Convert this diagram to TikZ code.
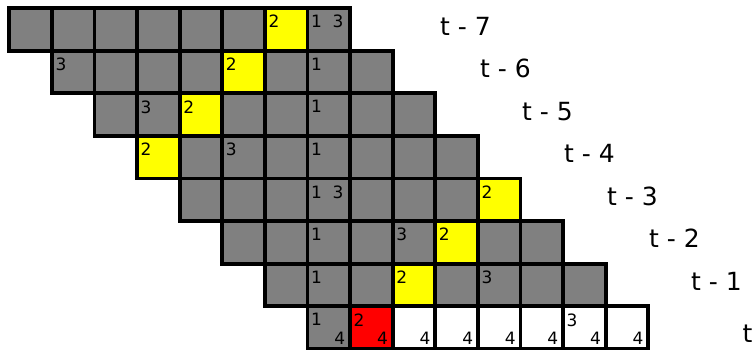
\documentclass[tikz,border=0pt]{standalone}
\usepackage{fontspec}
\setmainfont{DejaVu Sans}
\usetikzlibrary{positioning}
\definecolor{cellgray}{HTML}{808080}
\definecolor{cellyellow}{HTML}{FFFF00}
\definecolor{cellred}{HTML}{FF0000}
\tikzset{
  cellbox/.style={draw=black,line width=3.8pt,fill=cellgray,minimum size=42.6pt,inner sep=0pt,outer sep=0pt},
  hitbox/.style={cellbox,fill=cellyellow},
  nowbox/.style={cellbox,fill=white},
  newbox/.style={cellbox,fill=cellred},
  tag/.style={font=\fontsize{17}{17}\selectfont,inner sep=0pt,anchor=north west,xshift=3.5pt,yshift=-7pt},
  count/.style={font=\fontsize{17}{17}\selectfont,inner sep=0pt,anchor=south east,xshift=-4.5pt,yshift=4.5pt},
  steplabel/.style={font=\fontsize{25}{25}\selectfont,inner sep=0pt,anchor=base west}
}

\begin{document}
\begin{tikzpicture}[x=1pt,y=-1pt]
  \useasboundingbox (0,0) rectangle (756,349);
  % past rows
  \foreach \r in {0,...,6}
    \foreach \c in {0,...,7}
      \node[cellbox] (c\r\c) at ({30.5+42.6*(\r+\c)},{29.3+42.6*\r}) {};
  % current row
  \foreach \c/\s in {0/cellbox,1/newbox,2/nowbox,3/nowbox,4/nowbox,5/nowbox,6/nowbox,7/nowbox}
    \node[\s] (c7\c) at ({30.5+42.6*(7+\c)},{29.3+42.6*7}) {};
  % hits
  \foreach \r/\c in {0/6,1/4,2/2,3/0,4/7,5/5,6/3}
    \node[hitbox] (hit\r) at (c\r\c) {};
  % cell tags
  \node[tag] at (c06.north west) {2};
  \node[tag] at (c07.north west) {1\ \ 3};
  \node[tag] at (c10.north west) {3};
  \node[tag] at (c14.north west) {2};
  \node[tag] at (c16.north west) {1};
  \node[tag] at (c21.north west) {3};
  \node[tag] at (c22.north west) {2};
  \node[tag] at (c25.north west) {1};
  \node[tag] at (c30.north west) {2};
  \node[tag] at (c32.north west) {3};
  \node[tag] at (c34.north west) {1};
  \node[tag] at (c43.north west) {1\ \ 3};
  \node[tag] at (c47.north west) {2};
  \node[tag] at (c52.north west) {1};
  \node[tag] at (c54.north west) {3};
  \node[tag] at (c55.north west) {2};
  \node[tag] at (c61.north west) {1};
  \node[tag] at (c63.north west) {2};
  \node[tag] at (c65.north west) {3};
  \node[tag] at (c70.north west) {1};
  \node[tag] at (c71.north west) {2};
  \node[tag] at (c76.north west) {3};
  \foreach \c in {0,...,7}
    \node[count] at (c7\c.south east) {4};
  % time labels
  \node[steplabel] (lab7) at (440,35) {t - 7};
  \node[steplabel] (lab6) at (480,77.5) {t - 6};
  \node[steplabel] (lab5) at (522,120) {t - 5};
  \node[steplabel] (lab4) at (564,162.5) {t - 4};
  \node[steplabel] (lab3) at (607,205) {t - 3};
  \node[steplabel] (lab2) at (649,247.5) {t - 2};
  \node[steplabel] (lab1) at (691,290) {t - 1};
  \node[steplabel] (lab0) at (742.5,342) {t};
\end{tikzpicture}
\end{document}
